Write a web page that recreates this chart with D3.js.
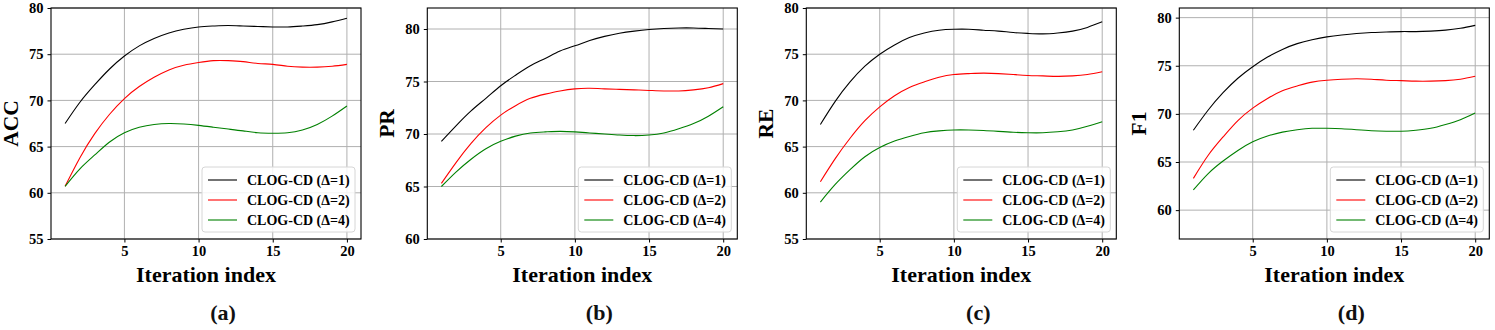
<!DOCTYPE html>
<html>
<head>
<meta charset="utf-8">
<script src="https://cdn.jsdelivr.net/npm/d3@7"></script>
<style>
  body { margin: 0; background: #fff; }
  svg text { font-family: "Times New Roman", "Liberation Serif", serif; font-weight: bold; }
</style>
</head>
<body>
<script>
// ---- data ----
var iterations = [1, 2, 3, 4, 5, 6, 7, 8, 9, 10, 11, 12, 13, 14, 15, 16, 17, 18, 19, 20];
var seriesNames = ["CLOG-CD (\u0394=1)", "CLOG-CD (\u0394=2)", "CLOG-CD (\u0394=4)"];
var metricNames = ["ACC", "PR", "RE", "F1"];
var captions = ["(a)", "(b)", "(c)", "(d)"];

var accValues = [
  [67.5, 69.8, 71.7, 73.4, 74.8, 75.9, 76.7, 77.3, 77.7, 77.95, 78.05, 78.1, 78.05, 78.0, 77.95, 77.95, 78.05, 78.2, 78.5, 78.9],
  [60.7, 63.8, 66.4, 68.5, 70.2, 71.5, 72.5, 73.3, 73.8, 74.1, 74.3, 74.3, 74.2, 74.0, 73.9, 73.7, 73.6, 73.6, 73.7, 73.9],
  [60.7, 62.6, 64.1, 65.5, 66.5, 67.1, 67.4, 67.5, 67.45, 67.3, 67.1, 66.9, 66.7, 66.5, 66.45, 66.5, 66.8, 67.4, 68.3, 69.4]
];
var prValues = [
  [69.3, 70.8, 72.2, 73.4, 74.6, 75.6, 76.5, 77.2, 77.9, 78.4, 78.9, 79.3, 79.6, 79.8, 79.95, 80.05, 80.1, 80.1, 80.05, 80.0],
  [65.3, 67.3, 69.1, 70.6, 71.8, 72.7, 73.4, 73.8, 74.1, 74.3, 74.35, 74.3, 74.25, 74.2, 74.15, 74.1, 74.1, 74.2, 74.4, 74.8],
  [65.0, 66.4, 67.6, 68.6, 69.3, 69.8, 70.1, 70.2, 70.25, 70.2, 70.1, 70.0, 69.9, 69.85, 69.9, 70.1, 70.5, 71.0, 71.7, 72.6]
];
var reValues = [
  [67.4, 69.9, 72.0, 73.7, 75.0, 76.0, 76.8, 77.3, 77.6, 77.7, 77.7, 77.6, 77.5, 77.35, 77.25, 77.2, 77.3, 77.5, 77.9, 78.5],
  [61.2, 63.7, 65.9, 67.8, 69.3, 70.5, 71.4, 72.0, 72.5, 72.8, 72.9, 72.95, 72.9, 72.8, 72.7, 72.65, 72.6, 72.65, 72.8, 73.1],
  [59.0, 60.9, 62.5, 63.9, 64.9, 65.6, 66.1, 66.5, 66.7, 66.8, 66.8, 66.75, 66.65, 66.55, 66.5, 66.5, 66.6, 66.8, 67.2, 67.7]
];
var f1Values = [
  [68.3, 70.4, 72.2, 73.7, 74.9, 75.9, 76.7, 77.3, 77.7, 78.0, 78.2, 78.35, 78.45, 78.5, 78.55, 78.55, 78.6, 78.7, 78.9, 79.2],
  [63.3, 65.7, 67.6, 69.3, 70.6, 71.6, 72.4, 72.9, 73.3, 73.5, 73.6, 73.65, 73.6, 73.5, 73.45, 73.4, 73.4, 73.45, 73.6, 73.9],
  [62.1, 63.8, 65.1, 66.2, 67.1, 67.7, 68.1, 68.35, 68.5, 68.5, 68.45, 68.35, 68.25, 68.2, 68.2, 68.3, 68.5, 68.9, 69.4, 70.1]
];

var xTicks = [5, 10, 15, 20];
var accTicks = [55, 60, 65, 70, 75, 80];
var prTicks = [60, 65, 70, 75, 80];
var reTicks = [55, 60, 65, 70, 75, 80];
var f1Ticks = [60, 65, 70, 75, 80];

var accLimits = [55, 80];
var prLimits = [60, 82];
var reLimits = [55, 80];
var f1Limits = [57, 81];

// ---- layout ----
var width = 1495,
    height = 330;
var colors = ["#000000", "#ff0000", "#008000"];
var panelLeft = [51, 427.3, 806.3, 1179.3];
var plotW = 310,
    plotTop = 8,
    plotBottom = 239;

var panels = [
  { values: accValues, ticks: accTicks, limits: accLimits },
  { values: prValues, ticks: prTicks, limits: prLimits },
  { values: reValues, ticks: reTicks, limits: reLimits },
  { values: f1Values, ticks: f1Ticks, limits: f1Limits }
];

var svg = d3.select("body").append("svg")
    .attr("width", width)
    .attr("height", height);

var x = d3.scaleLinear()
    .domain([0.05, 20.95]);

panels.forEach(function(p, i) {
  var left = panelLeft[i];
  var xs = x.copy().range([left, left + plotW]);
  var ys = d3.scaleLinear().domain(p.limits).range([plotBottom, plotTop]);
  var g = svg.append("g");

  // grid
  g.append("g").selectAll("line").data(xTicks).enter().append("line")
    .attr("x1", function(d) { return xs(d); })
    .attr("x2", function(d) { return xs(d); })
    .attr("y1", plotTop).attr("y2", plotBottom)
    .attr("stroke", "#b0b0b0").attr("stroke-width", 1);
  g.append("g").selectAll("line").data(p.ticks).enter().append("line")
    .attr("x1", left).attr("x2", left + plotW)
    .attr("y1", function(d) { return ys(d); })
    .attr("y2", function(d) { return ys(d); })
    .attr("stroke", "#b0b0b0").attr("stroke-width", 1);

  // lines
  var line = d3.line()
    .curve(d3.curveNatural)
    .x(function(d, k) { return xs(iterations[k]); })
    .y(function(d) { return ys(d); });

  p.values.forEach(function(vals, s) {
    g.append("path")
      .datum(vals)
      .attr("d", line)
      .attr("fill", "none")
      .attr("stroke", colors[s])
      .attr("stroke-width", 1.1);
  });

  // axes
  var xAxis = d3.axisBottom(xs).tickValues(xTicks).tickSize(3.5).tickPadding(3);
  var yAxis = d3.axisLeft(ys).tickValues(p.ticks).tickSize(3.5).tickPadding(4);

  var gx = g.append("g").attr("transform", "translate(0," + plotBottom + ")").call(xAxis);
  var gy = g.append("g").attr("transform", "translate(" + left + ",0)").call(yAxis);
  [gx, gy].forEach(function(a) {
    a.select(".domain").remove();
    a.selectAll("text").attr("font-size", 14.5).attr("fill", "#000")
      .style("font-family", "'Times New Roman', 'Liberation Serif', serif").style("font-weight", "bold");
    a.selectAll("line").attr("stroke", "#000");
  });

  // frame
  g.append("rect")
    .attr("x", left).attr("y", plotTop)
    .attr("width", plotW).attr("height", plotBottom - plotTop)
    .attr("fill", "none").attr("stroke", "#000").attr("stroke-width", 1.1);

  // legend
  var lw = 153, lh = 65;
  var lx = left + plotW - 6 - lw,
      ly = plotBottom - 7 - lh;
  var lg = g.append("g").attr("transform", "translate(" + lx + "," + ly + ")");
  lg.append("rect")
    .attr("width", lw).attr("height", lh)
    .attr("rx", 3)
    .attr("fill", "#fff").attr("fill-opacity", 0.85)
    .attr("stroke", "#d6d6d6");
  seriesNames.forEach(function(name, s) {
    var cy = 13 + s * 20;
    lg.append("line")
      .attr("x1", 6).attr("x2", 35)
      .attr("y1", cy).attr("y2", cy)
      .attr("stroke", colors[s]).attr("stroke-width", 1.1);
    lg.append("text")
      .attr("x", 45).attr("y", cy + 5)
      .attr("font-size", 14)
      .text(name);
  });

  // labels
  g.append("text")
    .attr("transform", "translate(" + (left - 33) + "," + ((plotTop + plotBottom) / 2) + ") rotate(-90)")
    .attr("text-anchor", "middle")
    .attr("font-size", 21.5)
    .text(metricNames[i]);

  g.append("text")
    .attr("x", left + plotW / 2)
    .attr("y", 282)
    .attr("text-anchor", "middle")
    .attr("font-size", 22)
    .text("Iteration index");

  g.append("text")
    .attr("x", left + plotW / 2 + 17)
    .attr("y", 320)
    .attr("text-anchor", "middle")
    .attr("font-size", 22)
    .attr("fill", "#111")
    .text(captions[i]);
});
</script>
</body>
</html>
